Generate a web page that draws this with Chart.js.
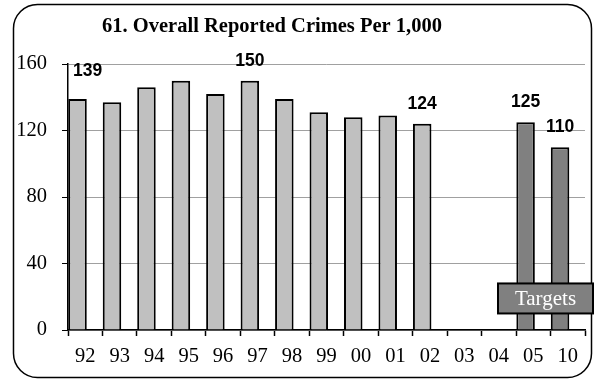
<!DOCTYPE html>
<html>
<head>
<meta charset="utf-8">
<script src="https://cdn.jsdelivr.net/npm/chart.js@4/dist/chart.umd.min.js"></script>
<style>
  html, body { margin: 0; padding: 0; background: #fff; }
  #wrap { width: 597px; height: 381px; }
</style>
</head>
<body>
<div id="wrap"><canvas id="crimeChart" width="597" height="381"></canvas></div>
<script>
const years = ["92", "93", "94", "95", "96", "97", "98", "99", "00", "01", "02", "03", "04", "05", "10"];
const reported = [139, 137, 146, 150, 142, 150, 139, 131, 128, 129, 124, null, null, null, null];
const targets = [null, null, null, null, null, null, null, null, null, null, null, null, null, 125, 110];
const labeledYears = ["92", "97", "02", "05", "10"];
const yTicks = [0, 40, 80, 120, 160];

const serif = "'Liberation Serif', 'Times New Roman', serif";
const sans = "'Liberation Sans', Arial, sans-serif";

// white background + rounded frame around the whole chart
const framePlugin = {
  id: "frame",
  beforeDraw(chart) {
    const ctx = chart.ctx;
    ctx.save();
    ctx.fillStyle = "#fff";
    ctx.fillRect(0, 0, chart.width, chart.height);
    ctx.beginPath();
    ctx.roundRect(13.5, 4.5, 578, 373, 24);
    ctx.lineWidth = 1.5;
    ctx.strokeStyle = "#000";
    ctx.stroke();

    ctx.fillStyle = "#000";
    ctx.font = "bold 20.5px " + serif;
    ctx.textAlign = "center";
    ctx.textBaseline = "alphabetic";
    ctx.fillText("61. Overall Reported Crimes Per 1,000", 272, 32);
    ctx.restore();
  }
};

// value labels over selected bars, and the "Targets" tag
const labelPlugin = {
  id: "valueLabels",
  afterDatasetsDraw(chart) {
    const ctx = chart.ctx;
    ctx.save();
    ctx.font = "bold 17.5px " + sans;
    ctx.fillStyle = "#000";
    ctx.textAlign = "center";
    ctx.textBaseline = "bottom";
    chart.data.datasets.forEach((ds, di) => {
      const meta = chart.getDatasetMeta(di);
      ds.data.forEach((v, i) => {
        if (v == null || !labeledYears.includes(years[i])) return;
        const bar = meta.data[i];
        let dx = 0, dy = 0;
        if (i === 0) { dx = 10; dy = -8; }
        ctx.fillText(String(v), bar.x + dx, bar.y - 11 + dy);
      });
    });

    const area = chart.chartArea;
    const y = chart.scales.y;
    const bx = area.right - 87, by = y.getPixelForValue(28);
    ctx.fillStyle = "#808080";
    ctx.fillRect(bx, by, 95, 30);
    ctx.lineWidth = 2;
    ctx.strokeStyle = "#000";
    ctx.strokeRect(bx, by, 95, 30);
    ctx.fillStyle = "#fff";
    ctx.font = "21px " + serif;
    ctx.textBaseline = "middle";
    ctx.fillText("Targets", bx + 47.5, by + 16);
    ctx.restore();
  }
};

new Chart(document.getElementById("crimeChart"), {
  type: "bar",
  data: {
    labels: years,
    datasets: [
      {
        label: "Reported",
        data: reported,
        stack: "main",
        backgroundColor: "#c0c0c0",
        borderColor: "#000",
        borderWidth: 2
      },
      {
        label: "Targets",
        data: targets,
        stack: "main",
        backgroundColor: "#808080",
        borderColor: "#000",
        borderWidth: 2
      },
      {
        label: "spacer",
        data: years.map(() => null),
        stack: "spacer"
      }
    ]
  },
  options: {
    responsive: false,
    animation: false,
    categoryPercentage: 0.895,
    barPercentage: 1.2,
    layout: { padding: { left: 0, right: 12, top: 64, bottom: 0 } },
    plugins: {
      legend: { display: false },
      title: { display: false },
      tooltip: { enabled: false }
    },
    scales: {
      x: {
        stacked: true,
        afterFit(scale) { scale.height = 51; },
        grid: {
          offset: true,
          drawOnChartArea: false,
          tickLength: 6,
          tickColor: "#000",
          tickWidth: 1.5
        },
        border: { color: "#000", width: 1.5 },
        ticks: {
          color: "#000",
          padding: 8,
          font: { family: serif, size: 20.5 }
        }
      },
      y: {
        stacked: true,
        min: 0,
        max: 160,
        afterFit(scale) { scale.width = 68; },
        afterBuildTicks(scale) { scale.ticks = yTicks.map(v => ({ value: v })); },
        grid: {
          color: "#a0a0a0",
          lineWidth: 1,
          tickLength: 6,
          tickColor: "#000"
        },
        border: { color: "#000", width: 1.5 },
        ticks: {
          color: "#000",
          padding: 15,
          font: { family: serif, size: 20.5 }
        }
      }
    }
  },
  plugins: [framePlugin, labelPlugin]
});
</script>
</body>
</html>
